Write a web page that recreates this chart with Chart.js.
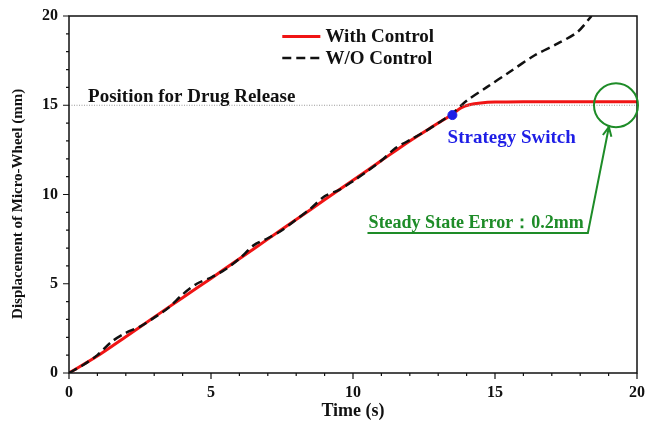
<!DOCTYPE html>
<html>
<head>
<meta charset="utf-8">
<script src="https://cdn.jsdelivr.net/npm/chart.js@4.4.1/dist/chart.umd.min.js"></script>
<style>
  html, body { margin: 0; padding: 0; background: #fff; }
  #wrap { width: 645px; height: 426px; }
</style>
</head>
<body>
<div id="wrap"><canvas id="chart"></canvas></div>
<script>
// ====== DATOS ======
const timeCtrl = [0, 1, 2, 3, 4, 5, 6, 7, 8, 9, 10, 11, 12, 13, 13.5, 13.8, 14.1, 14.5, 15, 16, 18, 20];
const dispCtrl = [0, 0.95, 2.03, 3.13, 4.22, 5.3, 6.4, 7.5, 8.6, 9.7, 10.8, 11.9, 13.0, 14.0, 14.5, 14.85, 15.03, 15.13, 15.18, 15.2, 15.2, 15.2];

const timeNoCtrl = [0, 0.5, 1, 1.5, 2, 2.5, 3, 3.5, 4, 4.5, 5, 5.5, 6, 6.5, 7, 7.5, 8, 8.5, 9, 9.5, 10, 10.5, 11, 11.5, 12, 12.5, 13, 13.5, 14, 14.7, 15.5, 16.4, 17.2, 17.9, 18.4];
const dispNoCtrl = [0, 0.45, 1.0, 1.75, 2.25, 2.6, 3.1, 3.65, 4.4, 5.0, 5.35, 5.8, 6.4, 7.15, 7.55, 8.0, 8.6, 9.2, 9.9, 10.25, 10.75, 11.3, 11.9, 12.6, 13.05, 13.5, 14.0, 14.55, 15.25, 16.0, 16.85, 17.8, 18.45, 19.1, 20.0];

const switchTime = [13.5];
const switchDisp = [14.45];

const releasePos = 15;      // Position for Drug Release
const steadyPoint = [19.26, 15.0];

const seriesLabels = ['With Control', 'W/O Control'];

const FONT = "'Liberation Serif', 'Times New Roman', serif";
const RED = 'rgb(240,20,20)';
const GREEN = 'rgb(30,140,40)';
const BLUE = 'rgb(30,30,230)';

const toPts = (xs, ys) => xs.map((x, i) => ({ x: x, y: ys[i] }));

// ====== PLUGIN: marco, ticks, anotaciones y leyenda ======
const decor = {
    id: 'decor',
    afterDatasetsDraw(chart) {
        const { ctx, chartArea: a, scales: { x, y } } = chart;
        const px = v => x.getPixelForValue(v);
        const py = v => y.getPixelForValue(v);
        ctx.save();

        // linea de referencia (punteada gris)
        ctx.strokeStyle = '#999';
        ctx.lineWidth = 1;
        ctx.setLineDash([1, 1.5]);
        ctx.beginPath();
        ctx.moveTo(a.left, py(releasePos));
        ctx.lineTo(a.right, py(releasePos));
        ctx.stroke();
        ctx.setLineDash([]);

        // marco
        ctx.strokeStyle = '#111';
        ctx.lineWidth = 1.5;
        ctx.strokeRect(a.left, a.top, a.right - a.left, a.bottom - a.top);

        // ticks hacia afuera
        ctx.lineWidth = 1.2;
        ctx.beginPath();
        for (let t = 0; t <= 20; t++) {
            const len = t % 5 === 0 ? 6 : 3;
            ctx.moveTo(px(t), a.bottom);
            ctx.lineTo(px(t), a.bottom + len);
            ctx.moveTo(a.left, py(t));
            ctx.lineTo(a.left - len, py(t));
        }
        ctx.stroke();

        // textos
        ctx.textBaseline = 'alphabetic';
        ctx.textAlign = 'left';
        ctx.fillStyle = '#111';
        ctx.font = 'bold 19px ' + FONT;
        ctx.fillText('Position for Drug Release', px(0.67), py(15.18));

        ctx.fillStyle = BLUE;
        ctx.fillText('Strategy Switch', px(13.33), py(12.89));

        // circulo verde
        ctx.strokeStyle = GREEN;
        ctx.lineWidth = 2;
        ctx.beginPath();
        ctx.arc(px(steadyPoint[0]), py(steadyPoint[1]), 22, 0, Math.PI * 2);
        ctx.stroke();

        // texto + subrayado + flecha
        ctx.fillStyle = GREEN;
        ctx.font = 'bold 18px ' + FONT;
        ctx.fillText('Steady State Error：0.2mm', px(10.55), py(8.12));
        const x0 = px(10.51), yU = py(7.84), x1 = px(18.27);
        const tipX = px(19.01), tipY = py(13.78);
        ctx.beginPath();
        ctx.moveTo(x0, yU);
        ctx.lineTo(x1, yU);
        ctx.lineTo(tipX, tipY);
        ctx.stroke();
        const ang = Math.atan2(tipY - yU, tipX - x1);
        ctx.beginPath();
        ctx.moveTo(tipX - 10 * Math.cos(ang - 0.45), tipY - 10 * Math.sin(ang - 0.45));
        ctx.lineTo(tipX, tipY);
        ctx.lineTo(tipX - 10 * Math.cos(ang + 0.45), tipY - 10 * Math.sin(ang + 0.45));
        ctx.stroke();

        // leyenda
        const lx0 = px(7.51), lx1 = px(8.85), ly1 = py(18.85), ly2 = py(17.65);
        ctx.lineWidth = 3;
        ctx.strokeStyle = RED;
        ctx.beginPath();
        ctx.moveTo(lx0, ly1); ctx.lineTo(lx1, ly1);
        ctx.stroke();
        ctx.strokeStyle = '#111';
        ctx.lineWidth = 2.5;
        ctx.setLineDash([9, 5]);
        ctx.beginPath();
        ctx.moveTo(lx0, ly2); ctx.lineTo(lx1, ly2);
        ctx.stroke();
        ctx.setLineDash([]);
        ctx.fillStyle = '#111';
        ctx.font = 'bold 19px ' + FONT;
        ctx.textBaseline = 'middle';
        ctx.fillText(seriesLabels[0], px(9.03), ly1 + 1);
        ctx.fillText(seriesLabels[1], px(9.03), ly2 + 1);

        ctx.restore();
    }
};

// quitar el padding automatico de las etiquetas de los ejes
const noPad = s => { s.paddingLeft = 0; s.paddingRight = 0; s.paddingTop = 0; s.paddingBottom = 0; };

const ctx = document.getElementById('chart').getContext('2d');

new Chart(ctx, {
    type: 'line',
    data: {
        datasets: [
            {
                label: 'Strategy Switch',
                type: 'scatter',
                data: toPts(switchTime, switchDisp),
                backgroundColor: BLUE,
                borderColor: BLUE,
                pointRadius: 4.5,
                order: 0
            },
            {
                label: seriesLabels[1],
                data: toPts(timeNoCtrl, dispNoCtrl),
                borderColor: '#111',
                borderWidth: 2.5,
                borderDash: [9, 5],
                pointRadius: 0,
                tension: 0.3,
                fill: false,
                order: 1
            },
            {
                label: seriesLabels[0],
                data: toPts(timeCtrl, dispCtrl),
                borderColor: RED,
                borderWidth: 3,
                pointRadius: 0,
                tension: 0.3,
                fill: false,
                order: 2
            }
        ]
    },
    options: {
        responsive: true,
        maintainAspectRatio: false,
        animation: false,
        layout: { autoPadding: false, padding: { left: 0, right: 8, top: 16, bottom: 0 } },
        scales: {
            x: {
                type: 'linear',
                min: 0,
                max: 20,
                ticks: {
                    stepSize: 5,
                    padding: 10,
                    maxRotation: 0,
                    color: '#111',
                    font: { family: FONT, size: 16, weight: 'bold' }
                },
                grid: { display: false, drawTicks: false },
                border: { display: false },
                title: {
                    display: true,
                    text: 'Time (s)',
                    color: '#111',
                    font: { family: FONT, size: 18, weight: 'bold' },
                    padding: { top: 0, bottom: 4 }
                },
                afterFit: s => { s.height = 53; noPad(s); }
            },
            y: {
                min: 0,
                max: 20,
                ticks: {
                    stepSize: 5,
                    padding: 11,
                    color: '#111',
                    font: { family: FONT, size: 16, weight: 'bold' }
                },
                grid: { display: false, drawTicks: false },
                border: { display: false },
                title: {
                    display: true,
                    text: 'Displacement of Micro-Wheel (mm)     ',
                    color: '#111',
                    font: { family: FONT, size: 15, weight: 'bold' },
                    padding: { top: 9, bottom: 0 }
                },
                afterFit: s => { s.width = 69; noPad(s); }
            }
        },
        plugins: {
            legend: { display: false },
            tooltip: { enabled: false }
        }
    },
    plugins: [decor]
});
</script>
</body>
</html>
